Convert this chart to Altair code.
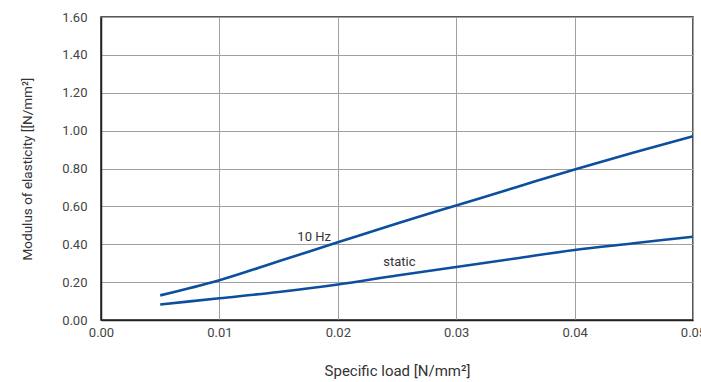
import altair as alt
import pandas as pd

load_10hz = [0.005, 0.01, 0.015, 0.02, 0.025, 0.03, 0.035, 0.04, 0.045, 0.05]
e_10hz = [0.13, 0.21, 0.31, 0.41, 0.51, 0.605, 0.70, 0.795, 0.885, 0.97]
load_static = [0.005, 0.01, 0.015, 0.02, 0.025, 0.03, 0.035, 0.04, 0.045, 0.05]
e_static = [0.082, 0.115, 0.148, 0.187, 0.235, 0.28, 0.325, 0.37, 0.405, 0.44]

x_ticks = [0, 0.01, 0.02, 0.03, 0.04, 0.05]
y_ticks = [0, 0.2, 0.4, 0.6, 0.8, 1.0, 1.2, 1.4, 1.6]

labels = ["10 Hz", "static"]
label_x = [0.018, 0.0252]
label_y = [0.44, 0.305]

rows = []
for x, y in zip(load_10hz, e_10hz):
    rows.append({"load": x, "E": y, "series": "10 Hz"})
for x, y in zip(load_static, e_static):
    rows.append({"load": x, "E": y, "series": "static"})
df = pd.DataFrame(rows)
lab = pd.DataFrame({"text": labels, "load": label_x, "E": label_y})

FONT = "Roboto"

xs = alt.Scale(domain=[0, 0.05], nice=False)
ys = alt.Scale(domain=[0, 1.6], nice=False)

common_axis = dict(
    ticks=False, labelOverlap=False, labelFlush=False,
    gridColor="#a0a0a0", gridWidth=1,
    labelFont=FONT, titleFont=FONT, labelFontSize=13,
    labelColor="#444", titleColor="#333", titleFontWeight="normal",
    domainColor="#222", domainWidth=1.5,
)

X = alt.X("load:Q", scale=xs, title="Specific load [N/mm²]",
          axis=alt.Axis(values=x_ticks, format=".2f", titleFontSize=15,
                        labelPadding=6, titlePadding=24, **common_axis))
Y = alt.Y("E:Q", scale=ys, title="Modulus of elasticity [[N/mm²]",
          axis=alt.Axis(values=y_ticks, format=".2f", titleFontSize=13.5,
                        labelPadding=14, titlePadding=27, **common_axis))

lines = alt.Chart(df).mark_line(color="#0b4f9e", strokeWidth=2.6, interpolate="monotone").encode(
    detail="series:N",
)

texts = alt.Chart(lab).mark_text(fontSize=13, font=FONT, color="#333", align="center").encode(
    text="text:N",
)

chart = alt.layer(lines, texts).encode(x=X, y=Y).properties(
    width=592, height=303,
    background="white",
    autosize=alt.AutoSizeParams(type="none"),
    padding={"left": 101, "top": 17, "right": 8, "bottom": 62},
).configure_view(
    stroke="#222", strokeWidth=1.5
)

chart.save("out.html", embed_options={"renderer": "svg", "actions": False})
